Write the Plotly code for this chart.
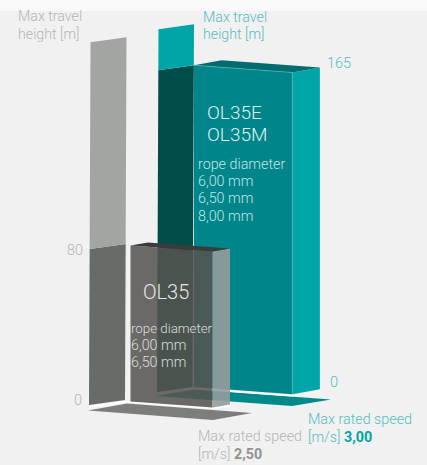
import plotly.graph_objects as go

# ---- data ----
models = ["OL35", "OL35E / OL35M"]
max_height_m = [80, 165]
max_speed_ms = [2.50, 3.00]
axis_top_m = 186
rope_gray = ["rope diameter", "6,00 mm", "6,50 mm"]
rope_teal = ["rope diameter", "6,00 mm", "6,50 mm", "8,00 mm"]
height_ticks_gray = [0, 80]
height_ticks_teal = [0, 165]

# ---- oblique projection (styles and geometry) ----
PX_PER_M = 1.95
PX_PER_MS = 32.8
SLOPE = 0.0735

def pt(origin, speed=0.0, depth=(0, 0), h=0.0):
    x = origin[0] + speed * PX_PER_MS + depth[0]
    y = origin[1] + speed * PX_PER_MS * SLOPE + depth[1] - h * PX_PER_M
    return x, y

fig = go.Figure()

def poly(points, color):
    xs = [p[0] for p in points] + [points[0][0]]
    ys = [p[1] for p in points] + [points[0][1]]
    fig.add_trace(go.Scatter(x=xs, y=ys, mode="lines", fill="toself", fillcolor=color,
                             line=dict(color="rgba(0,0,0,0)", width=0),
                             hoverinfo="skip", showlegend=False))

def polyline(points, color, lw):
    fig.add_trace(go.Scatter(x=[p[0] for p in points], y=[p[1] for p in points], mode="lines",
                             line=dict(color=color, width=lw), hoverinfo="skip", showlegend=False))

def wall(origin, width, drop, height, low, high, lean=1.5):
    x0, y0 = origin
    bl = (x0 - width, y0 + drop)
    br = (x0, y0)
    def at(p, h):
        f = h / axis_top_m
        return (p[0] + lean * f, p[1] - h * PX_PER_M)
    poly([bl, br, at(br, height), at(bl, height)], low)
    poly([at(bl, height), at(br, height), at(br, axis_top_m), at(bl, axis_top_m)], high)

def box(origin, speed, height, depth, front, side, top, edge=None):
    a = pt(origin)
    b = pt(origin, speed)
    c = pt(origin, speed, depth)
    poly([a, b, pt(origin, speed, (0, 0), height), pt(origin, 0, (0, 0), height)], front)
    poly([b, c, pt(origin, speed, depth, height), pt(origin, speed, (0, 0), height)], side)
    poly([pt(origin, 0, (0, 0), height), pt(origin, 0, depth, height),
          pt(origin, speed, depth, height), pt(origin, speed, (0, 0), height)], top)
    if edge:
        polyline([b, pt(origin, speed, (0, 0), height), pt(origin, 0, (0, 0), height)], edge, 0.7)

# ---- teal group ----
t_org = (194, 387)
poly([(156, 396), (194, 389.5), (331, 399.5), (292, 406)], "#00898b")
polyline([(157, 393.5), (194, 388.5), (292, 395.7), (320, 390.7)], "#ffffff", 1.6)
wall((192.5, 387), 35.5, 5, max_height_m[1], "#004d4a", "#00a5a8")
box(t_org, max_speed_ms[1], max_height_m[1], (27.5, -5), "#00868a", "#00a5a8", "#006c6e", "#55b5b6")

# ---- gray group ----
g_org = (130.5, 401.5)
poly([(88, 410.5), (127, 403.5), (252, 413), (213, 420)], "#7c7e7c")
polyline([(89, 406.8), (128, 401.5), (213, 408.2), (231, 405.5)], "#ffffff", 1.8)
wall((125, 400), 36, 5, max_height_m[0], "#686c68", "#a3a5a2")
box(g_org, max_speed_ms[0], max_height_m[0], (17.5, -3),
    "rgba(86,84,80,0.87)", "rgba(150,156,156,0.9)", "#3b3c3a")

# ---- text ----
GRAY = "#b4b5b3"
TEAL = "#55bcbe"
def label(x, y, text, size, color, anchor="left"):
    fig.add_annotation(x=x - 2 if anchor == "left" else x + 2, y=y, text=text, showarrow=False,
                       xanchor=anchor, yanchor="middle", align="left",
                       font=dict(family="Roboto", size=size, color=color, weight=300))

label(18, 16, "Max travel", 14.2, GRAY)
label(18, 34, "height [m]", 14.2, GRAY)
label(203, 17, "Max travel", 14.2, TEAL)
label(203, 34, "height [m]", 14.2, TEAL)

label(351, 63, str(height_ticks_teal[1]), 14.5, TEAL, "right")
label(338, 382, str(height_ticks_teal[0]), 14.5, TEAL, "right")
label(83, 250, str(height_ticks_gray[1]), 14.5, GRAY, "right")
label(82, 400, str(height_ticks_gray[0]), 14.5, GRAY, "right")

names_teal = models[1].split(" / ")
label(207, 112.5, names_teal[0], 19, "#dff1f1")
label(207, 134.5, names_teal[1], 19, "#dff1f1")
for i, s in enumerate(rope_teal):
    label(198, 163.5 + i * 17.4, s, 14.3, "#c4e5e5")

label(143, 292, models[0], 20, "#e6e8e6")
for i, s in enumerate(rope_gray):
    label(131, 328 + i * 17, s, 13.3 if i == 0 else 14.3, "#dcdedc")

def speed_line(v, col):
    return f'[m/s] <b><span style="color:{col}">{v:.2f}</span></b>'.replace(".", ",")

label(308, 419, "Max rated speed", 14.3, TEAL)
label(308, 437, speed_line(max_speed_ms[1], "#00a5a8"), 14.3, TEAL)
label(198, 436, "Max rated speed", 14.3, GRAY)
label(198, 454, speed_line(max_speed_ms[0], "#929391"), 14.3, GRAY)

fig.update_layout(
    width=427, height=465, margin=dict(l=0, r=0, t=0, b=0),
    paper_bgcolor="#f1f1f1", plot_bgcolor="#f1f1f1", showlegend=False,
    xaxis=dict(range=[0, 427], visible=False, fixedrange=True),
    yaxis=dict(range=[465, 0], visible=False, fixedrange=True),
    shapes=[dict(type="rect", xref="x", yref="y", x0=0, x1=427, y0=0, y1=11,
                 fillcolor="#f9f9f9", line_width=0, layer="below")],
)
fig.write_html("out.html", config={"displayModeBar": False},
               post_script="document.body.style.margin='0';document.body.style.overflow='hidden';")
